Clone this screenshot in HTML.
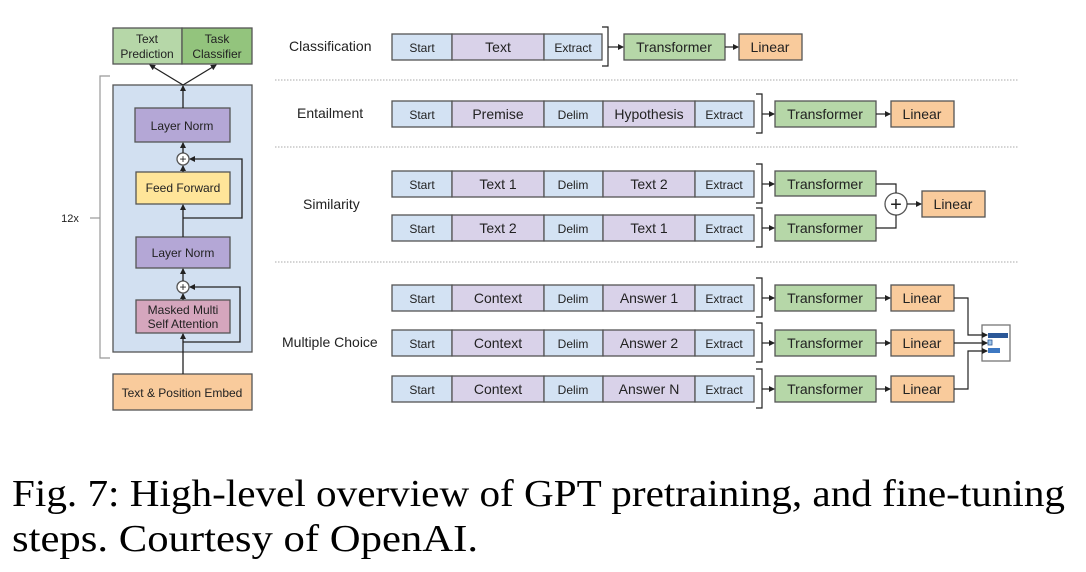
<!DOCTYPE html>
<html><head><meta charset="utf-8"><style>
html,body{margin:0;padding:0;background:#fff;}
svg{display:block;}
text{font-family:"Liberation Sans",sans-serif;fill:#222;}
</style></head><body>
<svg width="1086" height="572" viewBox="0 0 1086 572" xmlns="http://www.w3.org/2000/svg">
<defs>
<marker id="a" markerWidth="6" markerHeight="6" refX="5" refY="3" orient="auto" markerUnits="userSpaceOnUse"><path d="M0,0 L6,3 L0,6 z" fill="#222"/></marker>
</defs>
<g stroke="#555" stroke-width="1.3">
<rect x="113" y="28" width="69" height="36" fill="#b6d7a8"/>
<rect x="182" y="28" width="70" height="36" fill="#93c47d"/>
<rect x="113" y="85" width="139" height="267" fill="#d2e0f1"/>
<rect x="135" y="108" width="95" height="34" fill="#b4a7d6"/>
<rect x="136" y="172" width="94" height="32" fill="#ffe599"/>
<rect x="136" y="237" width="94" height="31" fill="#b4a7d6"/>
<rect x="136" y="300" width="94" height="33" fill="#d5a6bd"/>
<rect x="113" y="374" width="139" height="36" fill="#f9cb9c"/>
<circle cx="183" cy="159" r="6" fill="#fff"/>
<circle cx="183" cy="287" r="6" fill="#fff"/>
</g>
<g stroke="#222" stroke-width="1.3" fill="none">
<line x1="183" y1="374" x2="183" y2="334" marker-end="url(#a)"/>
<line x1="183" y1="300" x2="183" y2="294" marker-end="url(#a)"/>
<line x1="183" y1="281" x2="183" y2="269" marker-end="url(#a)"/>
<line x1="183" y1="237" x2="183" y2="205" marker-end="url(#a)"/>
<line x1="183" y1="172" x2="183" y2="166" marker-end="url(#a)"/>
<line x1="183" y1="153" x2="183" y2="143" marker-end="url(#a)"/>
<line x1="183" y1="108" x2="183" y2="86" marker-end="url(#a)"/>
<polyline points="183,218 242,218 242,159 190,159" marker-end="url(#a)"/>
<polyline points="183,342 240,342 240,287 190,287" marker-end="url(#a)"/>
<line x1="183" y1="85" x2="150" y2="65" marker-end="url(#a)"/>
<line x1="183" y1="85" x2="216" y2="65" marker-end="url(#a)"/>
</g>
<g font-size="14" text-anchor="middle" fill="#222">
<text x="183" y="163" font-size="12">+</text>
<text x="183" y="291" font-size="12">+</text>
</g>
<polyline points="110,76 100,76 100,358 110,358" fill="none" stroke="#999" stroke-width="1.2"/>
<line x1="90" y1="218" x2="100" y2="218" stroke="#999" stroke-width="1.2"/>
<g font-size="12" text-anchor="middle">
<text x="147" y="43">Text</text><text x="147" y="58">Prediction</text>
<text x="217" y="43">Task</text><text x="217" y="58">Classifier</text>
<text x="182" y="130">Layer Norm</text>
<text x="183" y="192">Feed Forward</text>
<text x="183" y="257">Layer Norm</text>
<text x="183" y="314">Masked Multi</text><text x="183" y="328">Self Attention</text>
<text x="182" y="397">Text &amp; Position Embed</text>
<text x="70" y="222" font-size="11">12x</text>
</g>
<g stroke="#aaa" stroke-width="1" stroke-dasharray="1.5,1.5">
<line x1="275" y1="80" x2="1018" y2="80"/>
<line x1="275" y1="147" x2="1018" y2="147"/>
<line x1="275" y1="262" x2="1018" y2="262"/>
</g>
<g font-size="14">
<text x="289" y="51">Classification</text>
<text x="297" y="118">Entailment</text>
<text x="303" y="209">Similarity</text>
<text x="282" y="347">Multiple Choice</text>
</g>
<g stroke="#555" stroke-width="1.3">
<rect x="392" y="34" width="60" height="26" fill="#d3e2f3"/>
<rect x="452" y="34" width="92" height="26" fill="#d9d2e9"/>
<rect x="544" y="34" width="58" height="26" fill="#d3e2f3"/>
<g id="r1">
<rect x="392" y="101" width="60" height="26" fill="#d3e2f3"/>
<rect x="452" y="101" width="92" height="26" fill="#d9d2e9"/>
<rect x="544" y="101" width="59" height="26" fill="#d3e2f3"/>
<rect x="603" y="101" width="92" height="26" fill="#d9d2e9"/>
<rect x="695" y="101" width="59" height="26" fill="#d3e2f3"/>
</g>
<use href="#r1" y="70"/>
<use href="#r1" y="114"/>
<use href="#r1" y="184"/>
<use href="#r1" y="229"/>
<use href="#r1" y="275"/>
<rect x="624" y="34" width="101" height="26" fill="#b6d7a8"/>
<rect x="739" y="34" width="63" height="26" fill="#f9cb9c"/>
<rect x="775" y="101" width="101" height="26" fill="#b6d7a8"/>
<rect x="891" y="101" width="63" height="26" fill="#f9cb9c"/>
<rect x="775" y="171" width="101" height="25" fill="#b6d7a8"/>
<rect x="775" y="215" width="101" height="26" fill="#b6d7a8"/>
<rect x="922" y="191" width="63" height="26" fill="#f9cb9c"/>
<rect x="775" y="285" width="101" height="26" fill="#b6d7a8"/>
<rect x="891" y="285" width="63" height="26" fill="#f9cb9c"/>
<rect x="775" y="330" width="101" height="26" fill="#b6d7a8"/>
<rect x="891" y="330" width="63" height="26" fill="#f9cb9c"/>
<rect x="775" y="376" width="101" height="26" fill="#b6d7a8"/>
<rect x="891" y="376" width="63" height="26" fill="#f9cb9c"/>
<circle cx="896" cy="204" r="11" fill="#fff"/>
<rect x="982" y="325" width="28" height="36" fill="#fff" stroke="#777"/>
</g>
<g>
<rect x="988" y="333" width="20" height="5" fill="#2b5797"/>
<rect x="988" y="340" width="4" height="5" fill="#9fc5e8" stroke="#2b5797" stroke-width="0.8"/>
<rect x="988" y="348" width="12" height="5" fill="#3d78c2"/>
</g>
<g stroke="#222" stroke-width="1.2" fill="none">
<polyline points="602,27 608,27 608,66 602,66"/>
<polyline points="756,94 762,94 762,133 756,133"/>
<polyline points="756,164 762,164 762,203 756,203"/>
<polyline points="756,208 762,208 762,247 756,247"/>
<polyline points="756,278 762,278 762,317 756,317"/>
<polyline points="756,323 762,323 762,362 756,362"/>
<polyline points="756,369 762,369 762,408 756,408"/>
</g>
<g stroke="#222" stroke-width="1.2" fill="none">
<line x1="608" y1="47" x2="623" y2="47" marker-end="url(#a)"/>
<line x1="725" y1="47" x2="738" y2="47" marker-end="url(#a)"/>
<line x1="762" y1="114" x2="774" y2="114" marker-end="url(#a)"/>
<line x1="876" y1="114" x2="890" y2="114" marker-end="url(#a)"/>
<line x1="762" y1="184" x2="774" y2="184" marker-end="url(#a)"/>
<line x1="762" y1="228" x2="774" y2="228" marker-end="url(#a)"/>
<polyline points="876,184 896,184 896,193"/>
<polyline points="876,228 896,228 896,215"/>
<line x1="907" y1="204" x2="921" y2="204" marker-end="url(#a)"/>
<line x1="762" y1="298" x2="774" y2="298" marker-end="url(#a)"/>
<line x1="876" y1="298" x2="890" y2="298" marker-end="url(#a)"/>
<line x1="762" y1="343" x2="774" y2="343" marker-end="url(#a)"/>
<line x1="876" y1="343" x2="890" y2="343" marker-end="url(#a)"/>
<line x1="762" y1="389" x2="774" y2="389" marker-end="url(#a)"/>
<line x1="876" y1="389" x2="890" y2="389" marker-end="url(#a)"/>
<polyline points="954,298 968,298 968,335 987,335" marker-end="url(#a)"/>
<polyline points="954,343 987,343" marker-end="url(#a)"/>
<polyline points="954,389 968,389 968,351 987,351" marker-end="url(#a)"/>
</g>
<text x="896" y="211" font-size="20" text-anchor="middle">+</text>
<g font-size="14" text-anchor="middle">
<text x="422" y="52" font-size="12">Start</text><text x="498" y="52">Text</text><text x="573" y="52" font-size="12">Extract</text>
<text x="674" y="52">Transformer</text><text x="770" y="52">Linear</text>
<text x="422" y="119" font-size="12">Start</text><text x="498" y="119">Premise</text><text x="573" y="119" font-size="12">Delim</text><text x="649" y="119">Hypothesis</text><text x="724" y="119" font-size="12">Extract</text>
<text x="825" y="119">Transformer</text><text x="922" y="119">Linear</text>
<text x="422" y="189" font-size="12">Start</text><text x="498" y="189">Text 1</text><text x="573" y="189" font-size="12">Delim</text><text x="649" y="189">Text 2</text><text x="724" y="189" font-size="12">Extract</text>
<text x="825" y="189">Transformer</text>
<text x="422" y="233" font-size="12">Start</text><text x="498" y="233">Text 2</text><text x="573" y="233" font-size="12">Delim</text><text x="649" y="233">Text 1</text><text x="724" y="233" font-size="12">Extract</text>
<text x="825" y="233">Transformer</text>
<text x="953" y="209">Linear</text>
<text x="422" y="303" font-size="12">Start</text><text x="498" y="303">Context</text><text x="573" y="303" font-size="12">Delim</text><text x="649" y="303">Answer 1</text><text x="724" y="303" font-size="12">Extract</text>
<text x="825" y="303">Transformer</text><text x="922" y="303">Linear</text>
<text x="422" y="348" font-size="12">Start</text><text x="498" y="348">Context</text><text x="573" y="348" font-size="12">Delim</text><text x="649" y="348">Answer 2</text><text x="724" y="348" font-size="12">Extract</text>
<text x="825" y="348">Transformer</text><text x="922" y="348">Linear</text>
<text x="422" y="394" font-size="12">Start</text><text x="498" y="394">Context</text><text x="573" y="394" font-size="12">Delim</text><text x="649" y="394">Answer N</text><text x="724" y="394" font-size="12">Extract</text>
<text x="825" y="394">Transformer</text><text x="922" y="394">Linear</text>
</g>
<g font-size="38">
<text x="12" y="506" textLength="1053" lengthAdjust="spacingAndGlyphs" style="font-family:'Liberation Serif',serif;fill:#000">Fig. 7: High-level overview of GPT pretraining, and fine-tuning</text>
<text x="12" y="551" textLength="466" lengthAdjust="spacingAndGlyphs" style="font-family:'Liberation Serif',serif;fill:#000">steps. Courtesy of OpenAI.</text>
</g>
</svg>
</body></html>
